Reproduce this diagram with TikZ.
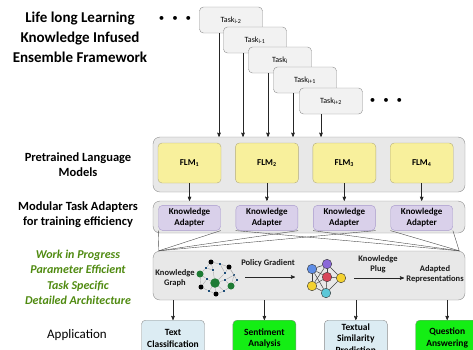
\documentclass[tikz,border=0pt]{standalone}
\usepackage{fontspec}
\setmainfont{Carlito}
\usepackage{tikz}
\usetikzlibrary{arrows,positioning,calc}

\definecolor{taskfill}{HTML}{F2F2F2}
\definecolor{boxfill}{HTML}{E8E8E8}
\definecolor{boxline}{HTML}{8C8C8C}
\definecolor{flmfill}{HTML}{F8F09C}
\definecolor{flmline}{HTML}{B4AC7C}
\definecolor{adfill}{HTML}{D9D0EA}
\definecolor{adline}{HTML}{A899CC}
\definecolor{appblue}{HTML}{DCECF3}
\definecolor{appgreen}{HTML}{14EE14}
\definecolor{wipgreen}{HTML}{4F8A10}
\definecolor{kgblue}{HTML}{1F4E79}
\definecolor{kggreen}{HTML}{1E7B34}
\definecolor{nnblue}{HTML}{5E8DE6}
\definecolor{nnpurple}{HTML}{8B68D8}
\definecolor{nnred}{HTML}{D8465A}
\definecolor{nnyellow}{HTML}{F4D230}
\definecolor{nncyan}{HTML}{5CC8D8}

\begin{document}
\begin{tikzpicture}[x=1pt,y=-1pt,>=stealth',node distance=14pt,
  task node/.style={rectangle,rounded corners=4pt,draw=boxline,fill=taskfill,
    minimum width=63pt,minimum height=26pt,font=\fontsize{8}{9}\selectfont},
  group box/.style={rectangle,rounded corners=7pt,draw=boxline,fill=boxfill,
    minimum width=312pt},
  flm node/.style={rectangle,rounded corners=4pt,draw=flmline,fill=flmfill,
    minimum width=63pt,minimum height=40pt,font=\bfseries\fontsize{9}{10}\selectfont},
  adapter node/.style={rectangle,rounded corners=4pt,draw=adline,fill=adfill,
    minimum width=62pt,minimum height=25pt,inner sep=1pt,align=center,
    font=\bfseries\fontsize{9}{11}\selectfont},
  app node/.style={rectangle,rounded corners=4pt,draw=boxline,
    minimum width=63pt,minimum height=36pt,inner sep=1pt,align=center,
    font=\bfseries\fontsize{9.5}{11.5}\selectfont},
  title text/.style={align=center,font=\bfseries\fontsize{15}{20}\selectfont},
  side label/.style={align=center,font=\bfseries\fontsize{12.5}{15.5}\selectfont},
  wip label/.style={align=center,text=wipgreen,
    font=\bfseries\itshape\fontsize{12}{15.5}\selectfont},
  small label/.style={align=center,inner sep=0pt,text=black!90,
    font=\bfseries\fontsize{8.5}{10}\selectfont},
  dots/.style={font=\fontsize{11}{12}\selectfont},
  kg dot/.style={circle,fill=black,inner sep=0pt,minimum size=5pt},
  kg big/.style={circle,fill=kggreen,inner sep=0pt},
  kg sq/.style={rectangle,fill=kgblue,inner sep=0pt,minimum size=2.4pt},
  kg edge/.style={draw=gray!70,line width=0.35pt},
  nn node/.style={circle,draw=black!80,line width=0.4pt,inner sep=0pt,minimum size=9.5pt},
  nn edge/.style={draw=black!75,line width=0.5pt},
  link/.style={->,line width=0.6pt,black!85}]

  \useasboundingbox (0,0) rectangle (473,349);
  \clip (0,0) rectangle (473,349);

  % left column
  \node[title text] (title) at (80,37) {Life long Learning\\Knowledge Infused\\Ensemble Framework};
  \node[side label] (plmlabel) at (78,164.5) {Pretrained Language\\Models};
  \node[side label] (mtalabel) at (78,214.5) {Modular Task Adapters\\for training efficiency};
  \node[wip label] (wiplabel) at (78,277.5) {Work in Progress\\Parameter Efficient\\Task Specific\\Detailed Architecture};
  \node[font=\fontsize{13}{15}\selectfont] (applabel) at (77,335) {Application};

  % tasks
  \node[dots] (dotsL) at (175,19) {\textbullet\hspace{8pt}\textbullet\hspace{8pt}\textbullet};
  \node[task node] (t1) at (231,20) {Task\textsubscript{i-2}};
  \node[task node] (t2) at (255,40) {Task\textsubscript{i-1}};
  \node[task node] (t3) at (280,60) {Task\textsubscript{i}};
  \node[task node] (t4) at (305,80) {Task\textsubscript{i+1}};
  \node[task node] (t5) at (331,101) {Task\textsubscript{i+2}};
  \node[dots] (dotsR) at (386,101) {\textbullet\hspace{8pt}\textbullet\hspace{8pt}\textbullet};

  % pretrained language models
  \node[group box,minimum height=55pt] (plm) at (309,164.5) {};
  \node[flm node] (f1) at (189.5,163) {FLM\textsubscript{1}};
  \node[flm node,right=of f1] (f2) {FLM\textsubscript{2}};
  \node[flm node,right=of f2] (f3) {FLM\textsubscript{3}};
  \node[flm node,right=of f3] (f4) {FLM\textsubscript{4}};

  \draw[link] ([xshift=-12pt]t1.south) -- ([xshift=-12pt]t1.south |- plm.north);
  \draw[link] ([xshift=-12pt]t2.south) -- ([xshift=-12pt]t2.south |- plm.north);
  \draw[link] ([xshift=-12pt]t3.south) -- ([xshift=-12pt]t3.south |- plm.north);
  \draw[link] ([xshift=-12pt]t4.south) -- ([xshift=-12pt]t4.south |- plm.north);
  \draw[link] ([xshift=-10pt]t5.south) -- ([xshift=-10pt]t5.south |- plm.north);

  % adapters
  \node[group box,minimum height=32pt] (mta) at (309,217) {};
  \node[adapter node,below=22pt of f1] (a1) {Knowledge\\Adapter};
  \node[adapter node,below=22pt of f2] (a2) {Knowledge\\Adapter};
  \node[adapter node,below=22pt of f3] (a3) {Knowledge\\Adapter};
  \node[adapter node,below=22pt of f4] (a4) {Knowledge\\Adapter};

  \draw[link] (f1) -- (f1 |- mta.north);
  \draw[link] (f2) -- (f2 |- mta.north);
  \draw[link] (f3) -- (f3 |- mta.north);
  \draw[link] (f4) -- (f4 |- mta.north);

  % architecture
  \node[group box,minimum height=49pt] (arch) at (309,275.5) {};
  \coordinate (fanL) at ([xshift=6pt]arch.north west);
  \coordinate (fanR) at ([xshift=-6pt]arch.north east);
  \draw[black!70,line width=0.4pt] (a1.south west) -- (fanL);
  \draw[black!70,line width=0.4pt] (a1.south east) -- (fanL);
  \draw[black!70,line width=0.4pt] (a2.south east) -- (fanL);
  \draw[black!70,line width=0.4pt] (a3.south east) -- (fanL);
  \draw[black!70,line width=0.4pt] (a4.south east) -- (fanR);
  \draw[black!70,line width=0.4pt] (a4.south west) -- (fanR);
  \draw[black!70,line width=0.4pt] (a3.south west) -- (fanR);
  \draw[black!70,line width=0.4pt] (a2.south west) -- (fanR);

  \node[small label] (kglabel) at (175,278.5) {Knowledge\\Graph};
  \node[small label] (pglabel) at (268,263) {Policy Gradient};
  \node[small label] (kplabel) at (378,264.5) {Knowledge\\Plug};
  \node[small label] (arlabel) at (435,274) {Adapted\\Representations};
  \coordinate (pgS) at (245,277);
  \coordinate (pgE) at (295,277);
  \coordinate (kpS) at (354,278);
  \coordinate (kpE) at (404,278);
  \draw[link] (pgS) -- (pgE);
  \draw[link] (kpS) -- (kpE);

  % knowledge graph
  \node[kg dot] (k1) at (211,262) {};
  \node[kg dot] (k2) at (229,267) {};
  \node[kg dot] (k3) at (201,287) {};
  \node[kg dot] (k4) at (216,294) {};
  \node[kg big,minimum size=7pt] (g1) at (200,274) {};
  \node[kg big,minimum size=9.5pt] (g2) at (215,283) {};
  \node[kg big,minimum size=7pt] (g3) at (231,286) {};
  \node[kg sq] (s1) at (206,268) {};
  \node[kg sq] (s2) at (220,264) {};
  \node[kg sq] (s3) at (213,270) {};
  \node[kg sq] (s4) at (225,273) {};
  \node[kg sq] (s5) at (234,275) {};
  \node[kg sq] (s6) at (207,279) {};
  \node[kg sq] (s7) at (225,280) {};
  \node[kg sq] (s8) at (224,291) {};
  \node[kg sq] (s9) at (209,291) {};
  \node[kg sq] (s10) at (237,280) {};
  \draw[kg edge] (k1) -- (s2) -- (k2) -- (s5) -- (g3) -- (s8) -- (k4) -- (s9) -- (k3) -- (g1) -- (s1) -- (k1);
  \draw[kg edge] (k1) -- (s3) -- (g2) -- (s4) -- (s2);
  \draw[kg edge] (s4) -- (k2);
  \draw[kg edge] (g1) -- (s6) -- (g2) -- (s7) -- (g3);
  \draw[kg edge] (s6) -- (k3);
  \draw[kg edge] (s7) -- (s5);
  \draw[kg edge] (g2) -- (k4);
  \draw[kg edge] (g2) -- (s9);
  \draw[kg edge] (g2) -- (s8);
  \draw[kg edge] (s10) -- (g3);
  \draw[kg edge] (s10) -- (k2);
  \draw[kg edge] (s3) -- (s1);

  % neural network
  \node[nn node,fill=nnblue] (nb) at (312,269) {};
  \node[nn node,fill=nnpurple] (np) at (327,264) {};
  \node[nn node,fill=nnred] (nr) at (327,277) {};
  \node[nn node,fill=nnyellow] (nyr) at (341,278) {};
  \node[nn node,fill=nnyellow] (nyl) at (312,286) {};
  \node[nn node,fill=nncyan] (nc) at (326,293) {};
  \draw[nn edge] (nb) -- (np);
  \draw[nn edge] (nb) -- (nr);
  \draw[nn edge] (nb) -- (nyl);
  \draw[nn edge] (nb) -- (nc);
  \draw[nn edge] (np) -- (nr);
  \draw[nn edge] (np) -- (nyr);
  \draw[nn edge] (np) -- (nyl);
  \draw[nn edge] (nr) -- (nyr);
  \draw[nn edge] (nr) -- (nyl);
  \draw[nn edge] (nr) -- (nc);
  \draw[nn edge] (nyl) -- (nc);
  \draw[nn edge] (nyr) -- (nc);

  % applications
  \node[app node,fill=appblue,anchor=north] (app1) at (173,320) {Text\\Classification};
  \node[app node,fill=appgreen,right=28pt of app1] (app2) {Sentiment\\Analysis};
  \node[app node,fill=appblue,right=28pt of app2] (app3) {Textual\\Similarity\\Prediction};
  \node[app node,fill=appgreen,right=28pt of app3] (app4) {Question\\Answering};

  \draw[link] (app1.north |- arch.south) -- (app1.north);
  \draw[link] (app2.north |- arch.south) -- (app2.north);
  \draw[link] (app3.north |- arch.south) -- (app3.north);
  \draw[link] (app4.north |- arch.south) -- (app4.north);
\end{tikzpicture}
\end{document}
